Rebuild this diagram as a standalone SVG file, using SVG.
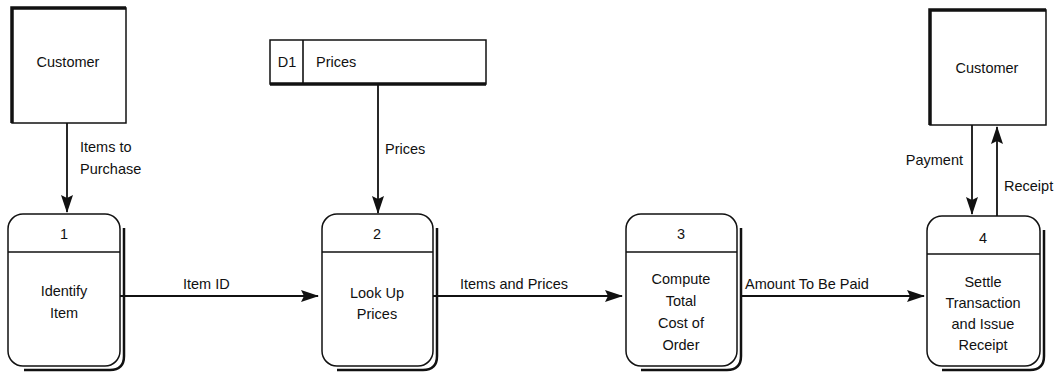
<svg xmlns="http://www.w3.org/2000/svg" width="1058" height="379" viewBox="0 0 1058 379">
<defs>
<marker id="ah" markerWidth="18" markerHeight="12" refX="17" refY="6" orient="auto" markerUnits="userSpaceOnUse">
<path d="M0,0 L18,6 L0,12 L3,6 Z" fill="#111"/>
</marker>
<style>
.t{font-family:"Liberation Sans",Arial,sans-serif;font-size:14.5px;fill:#111}
.c{text-anchor:middle}
.box{fill:#fff;stroke:#111;stroke-width:1.5}
.thick{stroke:#111;stroke-width:3.5;fill:none}
.shadow{fill:none;stroke:#111;stroke-width:2.5}
.line{stroke:#111;stroke-width:1.6;fill:none}
.flow{stroke:#111;stroke-width:1.8;fill:none;marker-end:url(#ah)}
</style>
</defs>

<g id="customer1">
<rect class="box" x="12" y="8" width="114" height="115"/>
<path class="thick" d="M12,123 V8 H126"/>
<text class="t c" x="68" y="67">Customer</text>
</g>

<g id="customer2">
<rect class="box" x="930" y="10" width="116" height="115"/>
<path class="thick" d="M930,125 V10 H1046"/>
<text class="t c" x="987" y="73">Customer</text>
</g>

<g id="store-d1">
<rect class="box" x="270" y="40" width="216" height="44"/>
<path class="thick" d="M270,84 H486" stroke-width="2.5"/>
<line class="line" x1="303" y1="40" x2="303" y2="84"/>
<text class="t c" x="287" y="67">D1</text>
<text class="t" x="316" y="67">Prices</text>
</g>

<g id="process1">
<path class="shadow" d="M124,228 V356 Q124,370 110,370 H24"/>
<rect class="box" x="8" y="214" width="112" height="152" rx="15"/>
<line class="line" x1="8" y1="252" x2="120" y2="252"/>
<text class="t c" x="64" y="239">1</text>
<text class="t c" x="64" y="296">Identify</text>
<text class="t c" x="64" y="318">Item</text>
</g>

<g id="process2">
<path class="shadow" d="M437,228 V356 Q437,370 423,370 H337"/>
<rect class="box" x="322" y="214" width="111" height="152" rx="15"/>
<line class="line" x1="322" y1="252" x2="433" y2="252"/>
<text class="t c" x="377" y="239">2</text>
<text class="t c" x="377" y="298">Look Up</text>
<text class="t c" x="377" y="319">Prices</text>
</g>

<g id="process3">
<path class="shadow" d="M741,228 V356 Q741,370 727,370 H641"/>
<rect class="box" x="626" y="214" width="111" height="152" rx="15"/>
<line class="line" x1="626" y1="252" x2="737" y2="252"/>
<text class="t c" x="681" y="239">3</text>
<text class="t c" x="681" y="284">Compute</text>
<text class="t c" x="681" y="306">Total</text>
<text class="t c" x="681" y="328">Cost of</text>
<text class="t c" x="681" y="350">Order</text>
</g>

<g id="process4">
<path class="shadow" d="M1044,230 V356 Q1044,370 1030,370 H942"/>
<rect class="box" x="927" y="216" width="113" height="150" rx="15"/>
<line class="line" x1="927" y1="254" x2="1040" y2="254"/>
<text class="t c" x="983" y="243">4</text>
<text class="t c" x="983" y="287">Settle</text>
<text class="t c" x="983" y="308">Transaction</text>
<text class="t c" x="983" y="329">and Issue</text>
<text class="t c" x="983" y="350">Receipt</text>
</g>

<g id="connectors">
<line class="flow" x1="67" y1="123" x2="67" y2="212"/>
<text class="t" x="80" y="152">Items to</text>
<text class="t" x="80" y="174">Purchase</text>

<line class="flow" x1="378" y1="84" x2="378" y2="213"/>
<text class="t" x="385" y="154">Prices</text>

<line class="flow" x1="120" y1="296" x2="318" y2="296"/>
<text class="t" x="183" y="289">Item ID</text>

<line class="flow" x1="433" y1="296" x2="622" y2="296"/>
<text class="t" x="460" y="289">Items and Prices</text>

<line class="flow" x1="741" y1="296" x2="924" y2="296"/>
<text class="t" x="745" y="289">Amount To Be Paid</text>

<line class="flow" x1="972" y1="125" x2="972" y2="214"/>
<text class="t" x="963" y="165" text-anchor="end">Payment</text>

<line class="flow" x1="997" y1="216" x2="997" y2="127"/>
<text class="t" x="1004" y="191">Receipt</text>
</g>
</svg>
